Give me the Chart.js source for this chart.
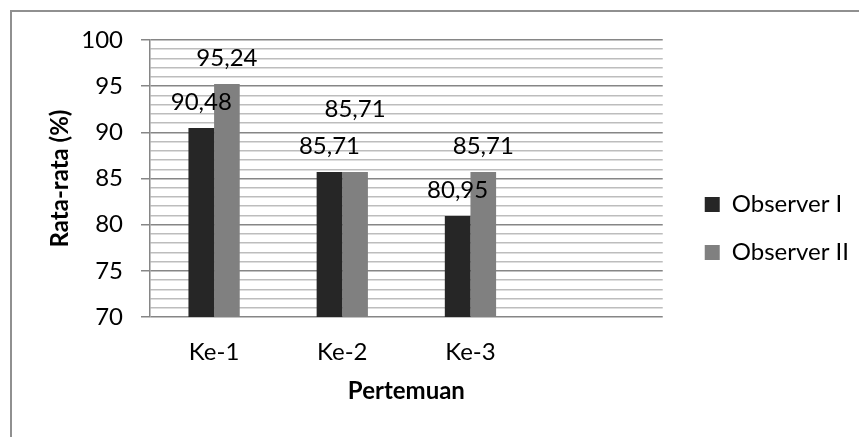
<!DOCTYPE html>
<html>
<head>
<meta charset="utf-8">
<script src="https://cdn.jsdelivr.net/npm/chart.js@4"></script>
<style>
  html, body { margin: 0; padding: 0; background: #fff; overflow: hidden; }
  #wrap { position: relative; width: 859px; height: 437px; }
  #frame { position: absolute; left: 10px; top: 10px; right: 0; bottom: 0;
           border-left: 2px solid #909090; border-top: 2px solid #909090; }
  #myChart { position: absolute; left: 0; top: 0; }
</style>
</head>
<body>
<div id="wrap">
  <div id="frame"></div>
  <canvas id="myChart" width="859" height="437"></canvas>
</div>
<script>
const categories = ["Ke-1", "Ke-2", "Ke-3", ""];
const observer1 = [90.48, 85.71, 80.95, null];
const observer2 = [95.24, 85.71, 85.71, null];
const yMin = 70, yMax = 100, yStep = 1, yMajor = 5;

const fontFam = "Lato, 'Open Sans', sans-serif";
Chart.defaults.font.family = fontFam;
Chart.defaults.font.size = 24;
Chart.defaults.color = "#000";

function formatKoma(v) {
  return v.toFixed(2).replace(".", ",");
}

// value labels above bars, lifted when they collide (like Excel does)
const barLabels = {
  id: "barLabels",
  afterDatasetsDraw(chart) {
    const ctx = chart.ctx;
    ctx.save();
    ctx.font = "24px " + fontFam;
    ctx.fillStyle = "#000";
    ctx.textAlign = "center";
    ctx.textBaseline = "middle";
    const placed = [];
    chart.data.datasets.forEach((ds, di) => {
      const meta = chart.getDatasetMeta(di);
      meta.data.forEach((bar, i) => {
        const v = ds.data[i];
        if (v == null) return;
        const txt = formatKoma(v);
        const w = ctx.measureText(txt).width;
        let y = bar.y - 26;
        placed.forEach(p => {
          if (Math.abs(p.x - bar.x) < (p.w + w) / 2 && Math.abs(p.y - y) < 26) y = p.y - 37;
        });
        placed.push({ x: bar.x, y: y, w: w });
        ctx.fillText(txt, bar.x, y);
      });
    });
    ctx.restore();
  }
};

const ctx = document.getElementById("myChart").getContext("2d");
const chart = new Chart(ctx, {
  type: "bar",
  data: {
    labels: categories,
    datasets: [
      { label: "Observer I", data: observer1, backgroundColor: "#262626",
        categoryPercentage: 0.4, barPercentage: 1.0 },
      { label: "Observer II", data: observer2, backgroundColor: "#808080",
        categoryPercentage: 0.4, barPercentage: 1.0 }
    ]
  },
  options: {
    responsive: false,
    animation: false,
    layout: { padding: { top: 40, bottom: 20, left: 0, right: 0 } },
    plugins: {
      tooltip: { enabled: false },
      legend: {
        position: "right",
        maxWidth: 180,
        labels: { boxWidth: 15, boxHeight: 15, padding: 24, color: "#000",
                  font: { size: 24 } }
      }
    },
    scales: {
      x: {
        grid: { display: false, drawTicks: false },
        border: { display: false },
        ticks: { padding: 21, font: { size: 24 }, color: "#000" },
        title: { display: true, text: "Pertemuan", color: "#000",
                 font: { size: 24, weight: "bold" }, padding: { top: 0, bottom: 11 } },
        afterFit(scale) { scale.height = 100; }
      },
      y: {
        min: yMin,
        max: yMax,
        ticks: {
          stepSize: yStep,
          autoSkip: false,
          padding: 18,
          color: "#000",
          font: { size: 24 },
          callback: v => (v % yMajor === 0 ? v : "")
        },
        grid: {
          color: c => (c.tick && c.tick.value % yMajor === 0 ? "#868686" : "#bdbdbd"),
          tickColor: c => (c.tick && c.tick.value % yMajor === 0 ? "#868686" : "rgba(0,0,0,0)"),
          lineWidth: 1.5,
          tickLength: 9
        },
        border: { display: true, color: "#868686", width: 1.5 },
        title: { display: true, text: "Rata-rata (%)", color: "#000",
                 font: { size: 24, weight: "bold" }, padding: { top: 46, bottom: 0 } },
        afterFit(scale) { scale.width = 150; }
      },
      spacer: {
        position: "right",
        display: true,
        grid: { display: false, drawTicks: false },
        border: { display: false },
        ticks: { display: false },
        afterFit(scale) { scale.width = 18; }
      }
    }
  },
  plugins: [barLabels]
});
</script>
</body>
</html>
